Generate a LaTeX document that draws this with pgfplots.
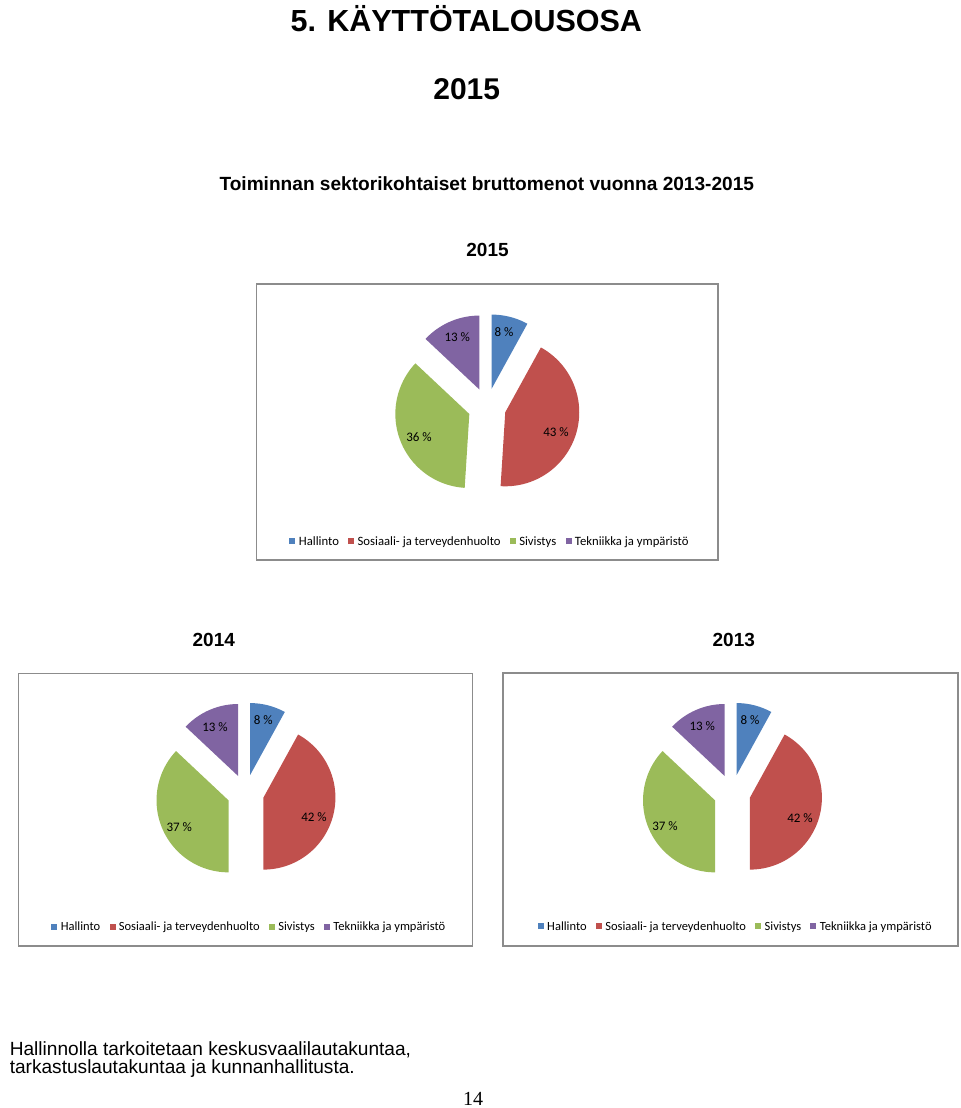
\documentclass[border=0pt]{standalone}
\usepackage{fontspec}
\setmainfont{Liberation Sans}
\newfontfamily\calibri{Carlito}
\newfontfamily\tms{Liberation Serif}
\usepackage{pgfplots}
\pgfplotsset{compat=1.18}
\definecolor{pblue}{HTML}{4F81BD}
\definecolor{pred}{HTML}{C0504D}
\definecolor{pgreen}{HTML}{9BBB59}
\definecolor{ppurple}{HTML}{8064A2}
\definecolor{bord}{HTML}{8C8C8C}

% one exploded slice: cx cy r d start% end% colour  (px units, y downwards)
\newcommand\slice[7]{%
  \pgfmathsetmacro\sa{90-3.6*#5}%
  \pgfmathsetmacro\ea{90-3.6*#6}%
  \pgfmathsetmacro\ma{(\sa+\ea)/2}%
  \pgfmathsetmacro\ax{#1+#4*cos(\ma)}%
  \pgfmathsetmacro\ay{#2-#4*sin(\ma)}%
  \edef\doslice{\noexpand\addplot[fill=#7, draw=none, domain=\ea:\sa, samples=72, variable=\noexpand\t]
    ({\ax+#3*cos(\noexpand\t)}, {\ay-#3*sin(\noexpand\t)}) -- (axis cs:\ax,\ay) -- cycle;}%
  \doslice
}
% pie: cx cy r d  v1 v2 v3 v4 (percent)
\newcommand\pie[8]{%
  \pgfmathsetmacro\cA{#5}%
  \pgfmathsetmacro\cB{#5+#6}%
  \pgfmathsetmacro\cC{#5+#6+#7}%
  \pgfmathsetmacro\cD{#5+#6+#7+#8}%
  \slice{#1}{#2}{#3}{#4}{0}{\cA}{pblue}%
  \slice{#1}{#2}{#3}{#4}{\cA}{\cB}{pred}%
  \slice{#1}{#2}{#3}{#4}{\cB}{\cC}{pgreen}%
  \slice{#1}{#2}{#3}{#4}{\cC}{\cD}{ppurple}%
}
\newcommand\sq[1]{\textcolor{#1}{\raisebox{0.5pt}{\rule{3pt}{3pt}}}\hspace{1.7pt}}
\newcommand\legline{\sq{pblue}Hallinto\hspace{4.6pt}\sq{pred}Sosiaali- ja terveydenhuolto\hspace{4.6pt}\sq{pgreen}Sivistys\hspace{4.6pt}\sq{ppurple}Tekniikka ja ympäristö}

\begin{document}
\begin{tikzpicture}
\begin{axis}[
  at={(0,0)}, anchor=south west,
  x=0.5pt, y=0.5pt, y dir=reverse,
  xmin=0, xmax=960, ymin=0, ymax=1108,
  hide axis, clip=false,
  every node/.append style={inner sep=0pt},
]
% chart frames
\draw[bord, line width=0.8pt] (axis cs:256.5,284) rectangle (axis cs:718,560);
\draw[bord, line width=0.8pt] (axis cs:18.5,673.5) rectangle (axis cs:472.5,946);
\draw[bord, line width=0.8pt] (axis cs:503,673) rectangle (axis cs:958,946);

% pies (values in percent: Hallinto, Sosiaali- ja terveydenhuolto, Sivistys, Tekniikka ja ympäristö)
\pie{487}{407}{74}{19}{8}{43}{36}{13}     % 2015
\pie{245.5}{793}{72}{18.5}{8}{42}{37}{13} % 2014
\pie{732}{793}{72}{18.5}{8}{42}{37}{13}   % 2013

% data labels
\begin{scope}[font=\calibri\fontsize{6.5}{7.5}\selectfont]
\node at (axis cs:504,332.3) {8 \%};
\node at (axis cs:457.3,337.3) {13 \%};
\node at (axis cs:556,431.7) {43 \%};
\node at (axis cs:419,437.3) {36 \%};
\node at (axis cs:263.3,720) {8 \%};
\node at (axis cs:215,726.7) {13 \%};
\node at (axis cs:314,816.7) {42 \%};
\node at (axis cs:179.3,826.7) {37 \%};
\node at (axis cs:750,720) {8 \%};
\node at (axis cs:702.3,725.7) {13 \%};
\node at (axis cs:800,818.3) {42 \%};
\node at (axis cs:665,825.7) {37 \%};
\end{scope}

% legends
\node[anchor=base, font=\calibri\fontsize{6.35}{7.5}\selectfont] at (axis cs:489,545) {\legline};
\node[anchor=base, font=\calibri\fontsize{6.25}{7.5}\selectfont] at (axis cs:248.3,930.5) {\legline};
\node[anchor=base, font=\calibri\fontsize{6.25}{7.5}\selectfont] at (axis cs:734.7,930) {\legline};

% titles
\node[anchor=base, font=\bfseries\fontsize{15.25}{18}\selectfont] at (axis cs:466.3,31.7) {5. KÄYTTÖTALOUSOSA};
\node[anchor=base, font=\bfseries\fontsize{15}{18}\selectfont] at (axis cs:466.7,99.3) {2015};
\node[anchor=base, font=\bfseries\fontsize{9.55}{11}\selectfont] at (axis cs:486.8,190) {Toiminnan sektorikohtaiset bruttomenot vuonna 2013-2015};
\node[anchor=base, font=\bfseries\fontsize{9.5}{11}\selectfont] at (axis cs:487.5,256.7) {2015};
\node[anchor=base, font=\bfseries\fontsize{9.5}{11}\selectfont] at (axis cs:213.8,646) {2014};
\node[anchor=base, font=\bfseries\fontsize{9.5}{11}\selectfont] at (axis cs:733.8,646) {2013};

% footer text
\node[anchor=base west, font=\fontsize{9.55}{11}\selectfont] at (axis cs:2.7,1055) {Hallinnolla tarkoitetaan keskusvaalilautakuntaa,};
\node[anchor=base west, font=\fontsize{9.55}{11}\selectfont] at (axis cs:2.7,1073.3) {tarkastuslautakuntaa ja kunnanhallitusta.};
\node[anchor=base west, font=\tms\fontsize{10}{12}\selectfont] at (axis cs:456,1105.5) {14};
\end{axis}
\pgfresetboundingbox
\path (0,0) rectangle (480pt,554pt);
\end{tikzpicture}
\end{document}
